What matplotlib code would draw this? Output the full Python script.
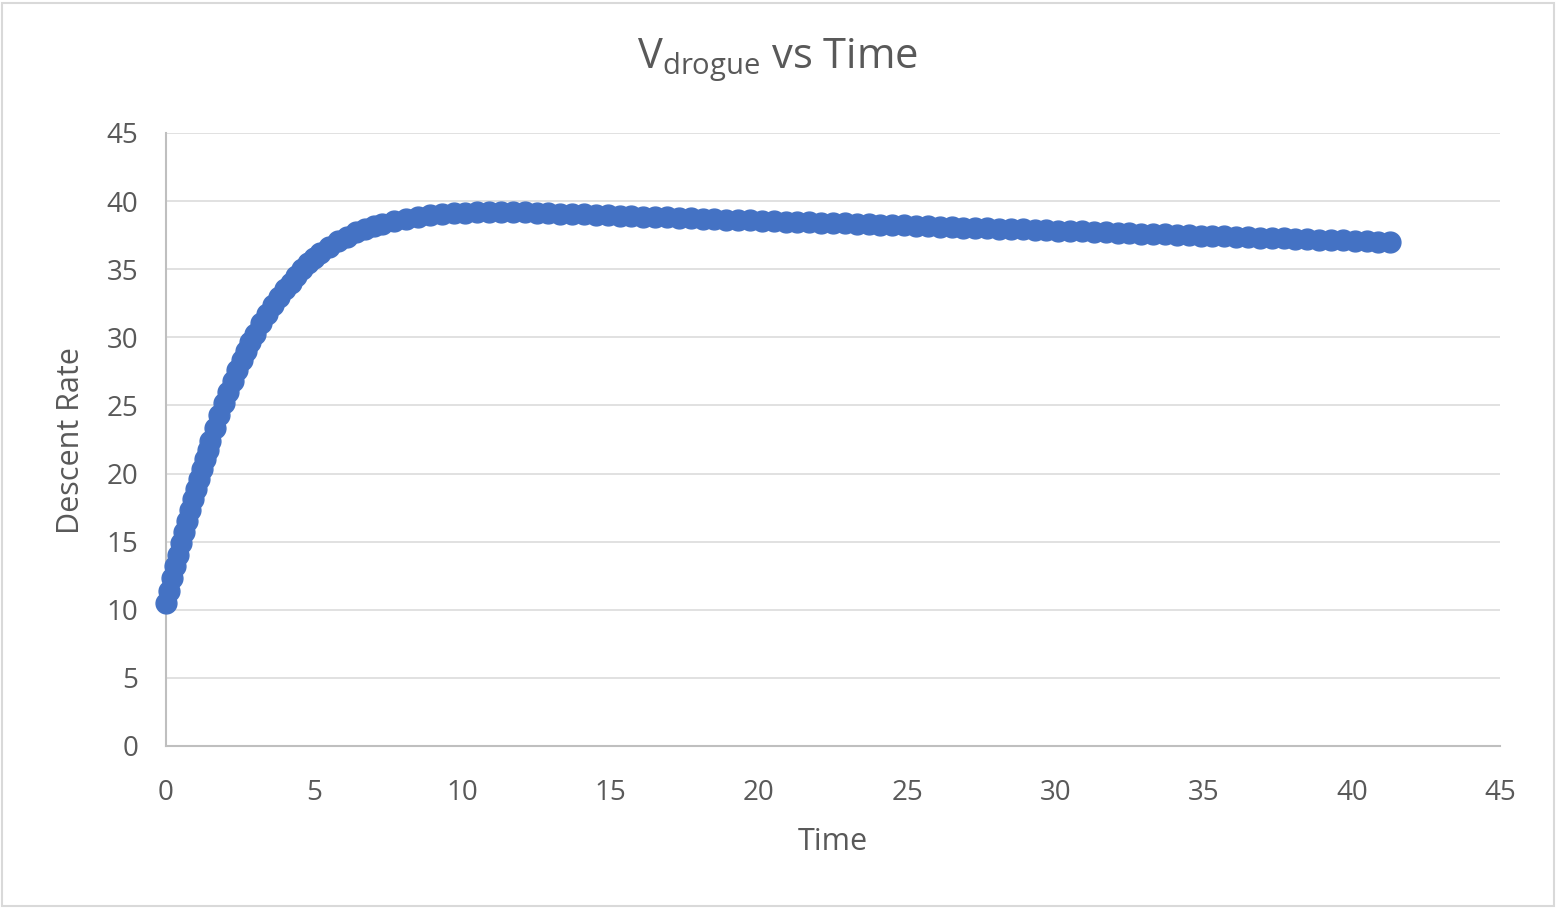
import matplotlib
matplotlib.use("Agg")
import matplotlib.pyplot as plt
from matplotlib.patches import Rectangle

# Data
time_s = [0.0, 0.1, 0.2, 0.3, 0.4, 0.5, 0.6, 0.7, 0.8, 0.9, 1.0, 1.1, 1.2, 1.3, 1.4, 1.5,
          1.65, 1.8, 1.95, 2.1, 2.25, 2.4, 2.55, 2.7, 2.85, 3.0,
          3.2, 3.4, 3.6, 3.8, 4.0, 4.2, 4.4, 4.6, 4.8, 5.0,
          5.2, 5.5, 5.8, 6.1, 6.4, 6.7, 7.0,
          7.3, 7.7, 8.1, 8.5, 8.9, 9.3, 9.7, 10.1, 10.5, 10.9, 11.3, 11.7, 12.1, 12.5,
          12.9, 13.3, 13.7, 14.1, 14.5, 14.9, 15.3, 15.7, 16.1, 16.5, 16.9, 17.3, 17.7,
          18.1, 18.5, 18.9, 19.3, 19.7, 20.1, 20.5, 20.9, 21.3, 21.7, 22.1, 22.5, 22.9,
          23.3, 23.7, 24.1, 24.5, 24.9, 25.3, 25.7, 26.1, 26.5, 26.9, 27.3, 27.7, 28.1,
          28.5, 28.9, 29.3, 29.7, 30.1, 30.5, 30.9, 31.3, 31.7, 32.1, 32.5, 32.9, 33.3,
          33.7, 34.1, 34.5, 34.9, 35.3, 35.7, 36.1, 36.5, 36.9, 37.3, 37.7, 38.1, 38.5,
          38.9, 39.3, 39.7, 40.1, 40.5, 40.9, 41.3]
descent_rate = [10.5, 11.41, 12.30, 13.18, 14.04, 14.88, 15.71, 16.53, 17.33, 18.10,
                18.87, 19.61, 20.33, 21.04, 21.73, 22.40,
                23.36, 24.30, 25.17, 26.02, 26.83, 27.59, 28.31, 28.99, 29.64, 30.25,
                31.02, 31.72, 32.37, 32.96, 33.52, 34.02, 34.50, 35.00, 35.45, 35.85,
                36.20, 36.65, 37.05, 37.40, 37.70, 37.95, 38.17,
                38.35, 38.55, 38.72, 38.86, 38.97, 39.05, 39.11, 39.15, 39.18, 39.20,
                39.20, 39.19, 39.17, 39.14,
                39.11, 39.08, 39.05, 39.02, 38.98, 38.95, 38.92, 38.89, 38.86, 38.83,
                38.80, 38.77, 38.74,
                38.71, 38.68, 38.65, 38.62, 38.59, 38.56, 38.53, 38.50, 38.48, 38.45,
                38.42, 38.39, 38.36,
                38.33, 38.30, 38.27, 38.24, 38.21, 38.18, 38.15, 38.12, 38.09, 38.06,
                38.03, 38.00, 37.97,
                37.94, 37.92, 37.89, 37.86, 37.83, 37.80, 37.77, 37.74, 37.71, 37.68,
                37.65, 37.62, 37.59,
                37.56, 37.53, 37.50, 37.47, 37.44, 37.41, 37.38, 37.35, 37.32, 37.30,
                37.27, 37.24, 37.21,
                37.18, 37.15, 37.12, 37.09, 37.06, 37.03, 37.00]
x_ticks = [0, 5, 10, 15, 20, 25, 30, 35, 40, 45]
y_ticks = [0, 5, 10, 15, 20, 25, 30, 35, 40, 45]

plt.rcParams['font.family'] = ['Open Sans', 'DejaVu Sans']
plt.rcParams['mathtext.fontset'] = 'custom'
plt.rcParams['mathtext.rm'] = 'Open Sans'
text_color = '#595959'

W, H = 1558, 908
fig = plt.figure(figsize=(W / 100, H / 100), dpi=100)
ax = fig.add_axes([166 / W, 162 / H, 1334 / W, 613 / H])

# Scatter with markers only
ax.plot(time_s, descent_rate, 'o', ms=15, color='#4472C4', mec='#4472C4',
        clip_on=False, zorder=3)

ax.set_xlim(0, 45)
ax.set_ylim(0, 45)
ax.set_xticks(x_ticks)
ax.set_yticks(y_ticks)
ax.tick_params(axis='both', length=0, labelsize=20, labelcolor=text_color)
ax.tick_params(axis='x', pad=24)
ax.tick_params(axis='y', pad=20)
ax.grid(axis='y', color='#d9d9d9', lw=1.1)
ax.set_axisbelow(True)
for side in ['top', 'right']:
    ax.spines[side].set_visible(False)
for side in ['left', 'bottom']:
    ax.spines[side].set_color('#bfbfbf')
    ax.spines[side].set_linewidth(1.5)

# Titles and labels
fig.text(778 / W, 1 - 68 / H, r'V$_{\mathregular{drogue}}$ vs Time', ha='center',
         va='baseline', fontsize=30, color=text_color)
fig.text(833 / W, 1 - 842 / H, 'Time', ha='center', va='center', fontsize=22,
         color=text_color)
fig.text(71 / W, 1 - 441 / H, 'Descent Rate', ha='center', va='center', rotation=90,
         fontsize=22, color=text_color)

# Chart border
fig.patches.append(Rectangle((2 / W, 2 / H), 1552 / W, 903 / H, transform=fig.transFigure,
                             fill=False, ec='#d9d9d9', lw=1.5))

fig.savefig('out.png', dpi=100)
